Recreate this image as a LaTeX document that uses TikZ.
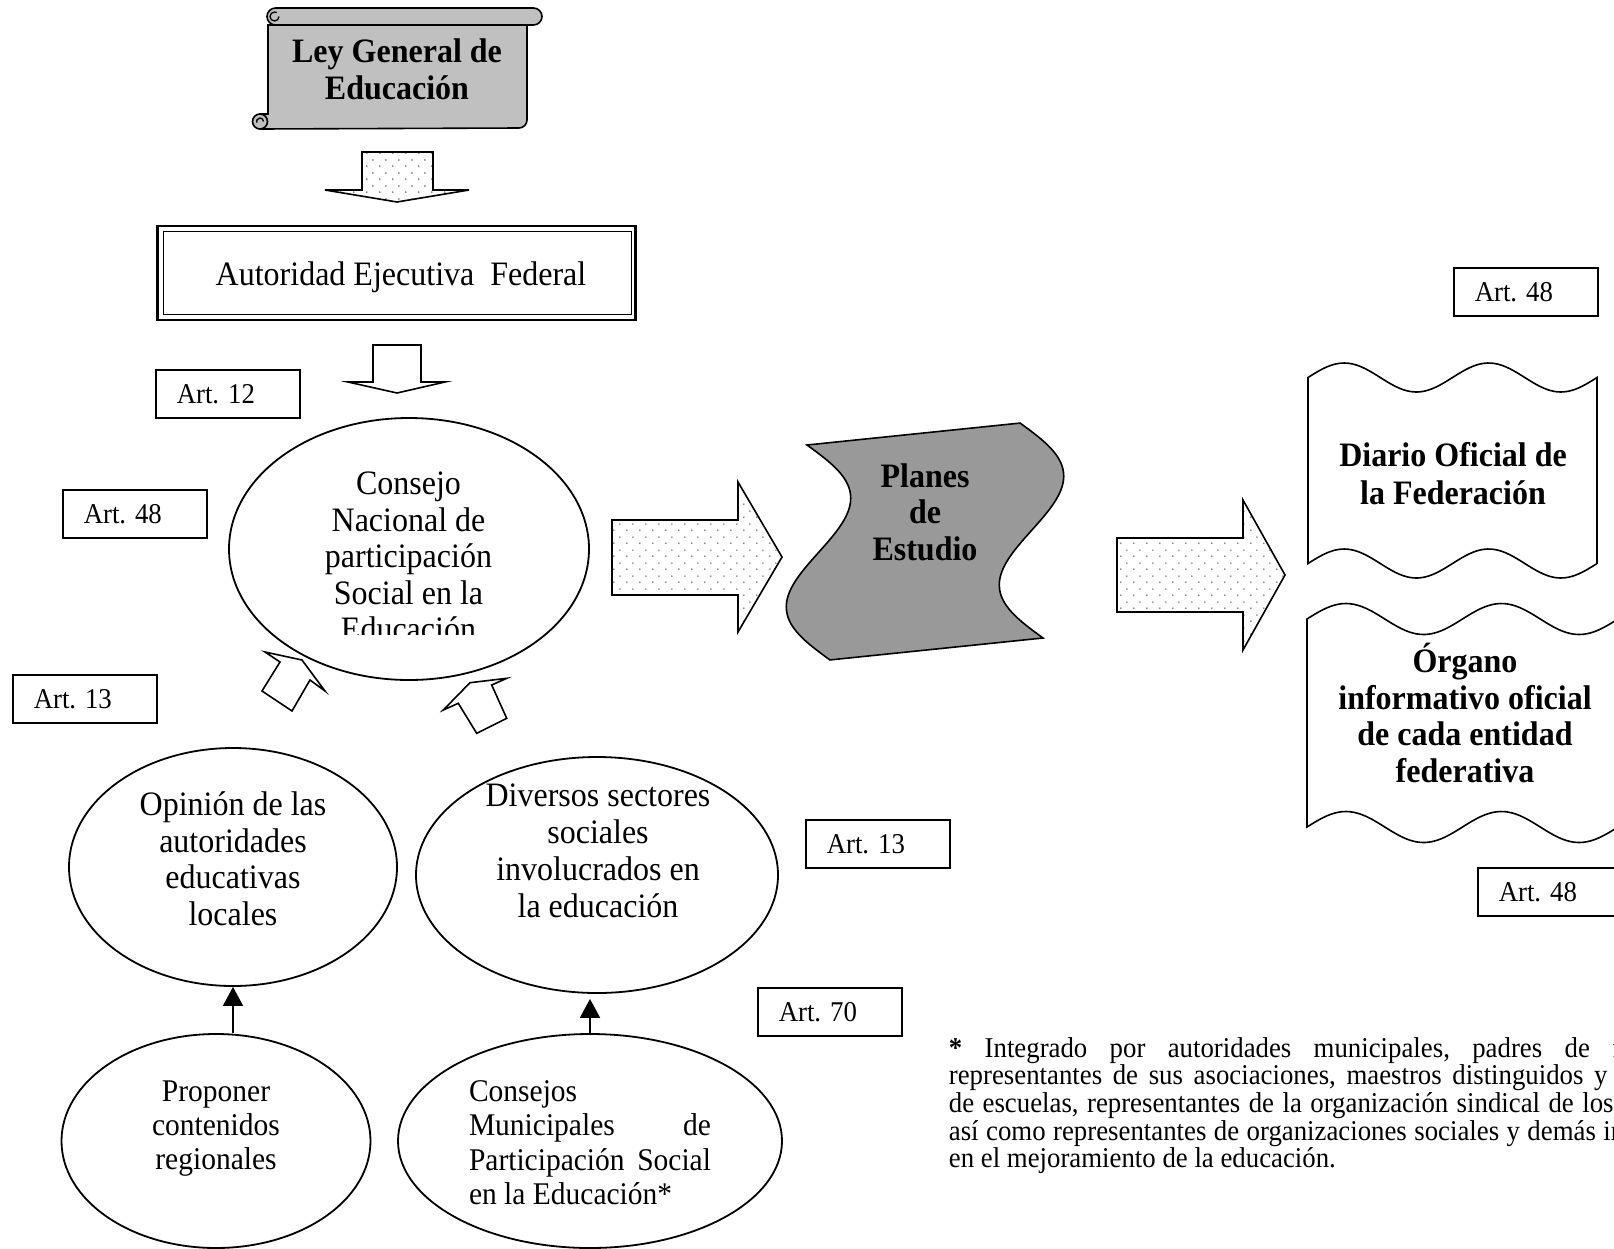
\documentclass[tikz,border=0pt]{standalone}
\usepackage{fontspec}
\setmainfont{Liberation Serif}
\usepackage{graphicx}
\usetikzlibrary{shapes.geometric,arrows.meta,patterns.meta}
\frenchspacing

\definecolor{scrollgray}{HTML}{C0C0C0}
\definecolor{planesgray}{HTML}{999999}
\definecolor{dotgray}{HTML}{808080}

\tikzdeclarepattern{
  name=sparsedots,
  type=uncolored,
  bottom left={(0pt,0pt)},
  top right={(13pt,13pt)},
  tile size={(13pt,13pt)},
  code={
    \pgfpathcircle{\pgfpoint{3pt}{3pt}}{1.05pt}
    \pgfpathcircle{\pgfpoint{9.5pt}{9.5pt}}{1.05pt}
    \pgfusepath{fill}
  }
}

\newcommand{\vst}[1]{\scalebox{1}[1.07]{#1}}
\newcommand{\clines}[1]{\vst{\vbox{\lineskiplimit=-\maxdimen\halign{\hfil\strut##\hfil\cr#1\crcr}}}}
\newcommand{\llines}[1]{\vst{\vbox{\lineskiplimit=-\maxdimen\halign{\strut##\hfil\cr#1\crcr}}}}

\tikzset{
  ell/.style={draw, ellipse, inner sep=0pt, line width=1.8pt},
  artbox/.style={draw, line width=1.5pt, anchor=north west, minimum height=48pt,
    minimum width=144pt, inner xsep=21pt, inner ysep=0pt, text width=102pt,
    align=left, font=\fontsize{26.8}{28}\selectfont},
  txt/.style={inner sep=0pt, anchor=center},
  blockarrow/.style={draw, line width=1.6pt, line join=miter},
  dotarrow/.style={blockarrow, pattern=sparsedots, pattern color=dotgray},
  whitearrow/.style={blockarrow, fill=white},
  conn/.style={line width=1.8pt, -{Triangle[width=20pt,length=19pt]}},
}

\begin{document}
\begin{tikzpicture}[x=1pt,y=-1pt,line width=1.8pt]
\useasboundingbox (0,0) rectangle (1614,1248);
\clip (0,0) rectangle (1614,1248);

% ---------- scroll: Ley General de Educacion ----------
\filldraw[fill=scrollgray, line width=1.6pt] (268,25) -- (527,25) -- (527,120)
  arc[start angle=0, end angle=90, radius=8] -- (260,129) -- (260,114) -- (268,114) -- cycle;
\filldraw[fill=scrollgray, line width=1.6pt] (260,121.5) circle (7.5);
\draw[line width=1.3pt] (263.5,121.5) arc[start angle=0, end angle=-200, radius=3.5];
\filldraw[fill=scrollgray, line width=1.6pt, rounded corners=8.5] (267,8) rectangle (542,25);
\draw[line width=1.3pt] (279,16.5) arc[start angle=0, end angle=300, radius=4.5];
\node[txt, font=\fontsize{32}{34.6}\selectfont\bfseries] (tley) at (397,74)
  {\clines{Ley General de\cr Educación}};

% arrow to Autoridad
\draw[dotarrow] (362,152) -- (433,152) -- (433,190) -- (469,190) -- (397,202) -- (325,190) -- (362,190) -- cycle;

% ---------- Autoridad Ejecutiva Federal ----------
\node[draw, line width=2.6pt, minimum width=478pt, minimum height=94pt, inner sep=0pt] (aut) at (396.7,272.8) {};
\node[draw, line width=1.4pt, minimum width=468pt, minimum height=83pt, inner sep=0pt] (autin) at (397.3,272.8) {};
\node[txt, font=\fontsize{32}{34.1}\selectfont] (taut) at (401,277.7) {\clines{Autoridad Ejecutiva\ \ Federal}};

\draw[whitearrow] (373,345) -- (421,345) -- (421,382) -- (445,382) -- (397,393) -- (348,382) -- (373,382) -- cycle;

% ---------- Art boxes ----------
\node[artbox] (art12) at (155,369) {\vst{Art. 12}};
\node[artbox] (art48a) at (62,489) {\vst{Art. 48}};
\node[artbox] (art13a) at (12,674) {\vst{Art. 13}};
\node[artbox] (art13b) at (805,819) {\vst{Art. 13}};
\node[artbox] (art70) at (757,987) {\vst{Art. 70}};
\node[artbox] (art48b) at (1453,267) {\vst{Art. 48}};
\node[artbox] (art48c) at (1477,867) {\vst{Art. 48}};

% ---------- Consejo Nacional ----------
\node[ell, minimum width=360pt, minimum height=262pt] (consejo) at (409,549) {};
\begin{scope}
  \clip (230,420) rectangle (590,634);
  \node[txt, font=\fontsize{32}{34.1}\selectfont] (tconsejo) at (408.5,560.5)
    {\clines{Consejo\cr Nacional de\cr participación\cr Social en la\cr Educación}};
\end{scope}

% big arrows
\draw[dotarrow] (612,520) -- (738,520) -- (738,482) -- (782,557) -- (738,632) -- (738,595) -- (612,595) -- cycle;
\draw[dotarrow] (1117,538) -- (1243,538) -- (1243,500) -- (1285,575) -- (1243,650) -- (1243,612) -- (1117,612) -- cycle;

% ---------- Planes de Estudio ----------
\filldraw[fill=planesgray, line width=1.6pt]
  plot[domain=0:1, samples=50, smooth] ({807+23*\x+37.8*sin(360*\x)}, {445+215*\x-4*sin(360*\x)})
  -- plot[domain=1:0, samples=50, smooth] ({1020+23*\x+37.8*sin(360*\x)}, {423+215*\x-4*sin(360*\x)})
  -- cycle;
\node[txt, font=\fontsize{32}{34.1}\selectfont\bfseries] (tplanes) at (925,516.5)
  {\clines{Planes\cr de\cr Estudio}};

% ---------- Diario Oficial ----------
\filldraw[fill=white, line width=1.6pt]
  plot[domain=0:289, samples=80, smooth] ({1308+\x},{377.5-14.5*sin(2.49135*\x)})
  -- plot[domain=289:0, samples=80, smooth] ({1308+\x},{563.5-14.5*sin(2.49135*\x)})
  -- cycle;
\node[txt, font=\fontsize{32}{35.5}\selectfont\bfseries] (tdiario) at (1453,477.8)
  {\clines{Diario Oficial de\cr la Federación}};

% ---------- Organo informativo ----------
\filldraw[fill=white, line width=1.6pt]
  plot[domain=0:311, samples=80, smooth] ({1307+\x},{619-15.5*sin(2.31511*\x)})
  -- plot[domain=311:0, samples=80, smooth] ({1307+\x},{827-15.5*sin(2.31511*\x)})
  -- cycle;
\node[txt, font=\fontsize{32}{34.1}\selectfont\bfseries] (torgano) at (1465,720.2)
  {\clines{\smash{Órgano}\cr informativo oficial\cr de cada entidad\cr federativa}};

% ---------- small white arrows ----------
\draw[whitearrow] (265,652) -- (302,660) -- (325,691) -- (310,680) -- (292,711) -- (262,691) -- (280,662) -- cycle;
\draw[whitearrow] (443.3,710) -- (470,682.7) -- (506.7,678.3) -- (491.7,685) -- (506.7,718.3) -- (476.7,733.3) -- (458.3,703.3) -- cycle;

% ---------- lower ellipses ----------
\node[ell, minimum width=328pt, minimum height=238pt] (opi) at (233,867) {};
\node[txt, font=\fontsize{32}{34.3}\selectfont] (topi) at (233,863)
  {\clines{Opinión de las\cr autoridades\cr educativas\cr locales}};

\node[ell, minimum width=362pt, minimum height=236pt] (div) at (597,875) {};
\node[txt, font=\fontsize{32}{34.6}\selectfont] (tdiv) at (598,854.5)
  {\clines{Diversos sectores\cr sociales\cr involucrados en\cr la educación}};

\node[ell, minimum width=309pt, minimum height=214pt] (prop) at (216,1141) {};
\node[txt, font=\fontsize{29.5}{31.8}\selectfont] (tprop) at (216,1128.8)
  {\clines{Proponer\cr contenidos\cr regionales}};

\node[ell, minimum width=384pt, minimum height=214pt] (cons) at (590,1141) {};
\node[txt, font=\fontsize{29.5}{32.1}\selectfont] (tcons) at (590,1146)
  {\llines{Consejos\cr \makebox[242pt][s]{Municipales de}\cr \makebox[242pt][s]{Participación Social}\cr en la Educación*}};

% connectors
\draw[conn] (prop.north -| opi.south) -- (opi.south);
\draw[conn, shorten >=5pt] (cons.north) -- (cons.north |- div.south);

% ---------- footnote ----------
\node[txt, anchor=west, font=\fontsize{26.8}{25.8}\selectfont] (foot) at (948,1106.5)
  {\llines{\makebox[775pt][s]{\textbf{*} Integrado por autoridades municipales, padres de familia y}\cr
  \makebox[775pt][s]{representantes de sus asociaciones, maestros distinguidos y directivos}\cr
  \makebox[775pt][s]{de escuelas, representantes de la organización sindical de los maestros,}\cr
  \makebox[775pt][s]{así como representantes de organizaciones sociales y demás interesados}\cr
  en el mejoramiento de la educación.}};
\end{tikzpicture}
\end{document}
